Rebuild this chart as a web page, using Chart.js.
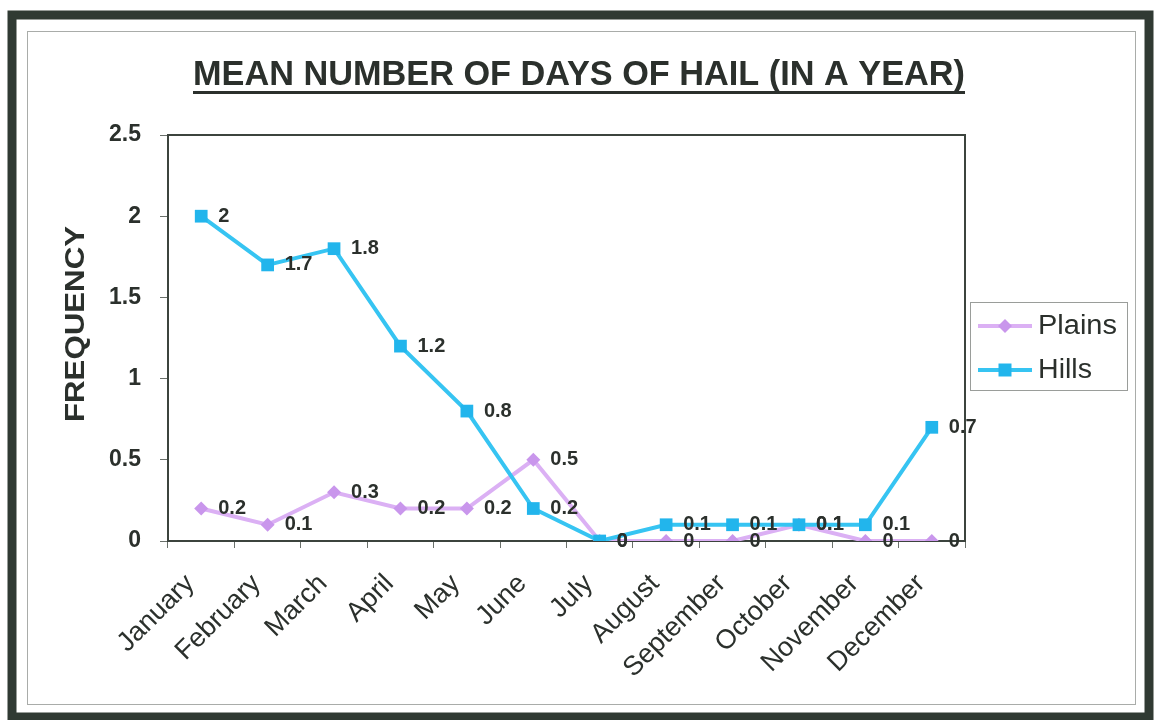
<!DOCTYPE html>
<html>
<head>
<meta charset="utf-8">
<title>Mean number of days of hail</title>
<script src="https://cdn.jsdelivr.net/npm/chart.js@4.4.1/dist/chart.umd.min.js"></script>
<style>
  html, body { margin: 0; padding: 0; background: #ffffff; }
  #wrap { width: 1156px; height: 720px; position: relative; }
</style>
</head>
<body>
<div id="wrap"><canvas id="hail" width="1156" height="720"></canvas></div>
<script>
// Monthly mean number of hail days
const months = ['January', 'February', 'March', 'April', 'May', 'June',
                'July', 'August', 'September', 'October', 'November', 'December'];
const plainsDays = [0.2, 0.1, 0.3, 0.2, 0.2, 0.5, 0, 0, 0, 0.1, 0, 0];
const hillsDays  = [2, 1.7, 1.8, 1.2, 0.8, 0.2, 0, 0.1, 0.1, 0.1, 0.1, 0.7];
const yTickValues = [0, 0.5, 1, 1.5, 2, 2.5];

const chartTitle = 'MEAN NUMBER OF DAYS OF HAIL (IN A YEAR)';
const yAxisTitle = 'FREQUENCY';

const PLAINS_COLOR = '#dbb0f4';
const PLAINS_POINT = '#c996ec';
const HILLS_COLOR = '#36c4f2';
const HILLS_POINT = '#22b5ec';
const TEXT_COLOR = '#2b302c';
const FONT = "'Liberation Sans', Arial, sans-serif";

// Centre a string on (cx, cy), squeezed or stretched to the given width
function drawFitted(ctx, text, cx, cy, width, font) {
  ctx.save();
  ctx.font = font;
  const w = ctx.measureText(text).width;
  ctx.translate(cx, cy);
  ctx.scale(width / w, 1);
  ctx.textAlign = 'center';
  ctx.textBaseline = 'middle';
  ctx.fillText(text, 0, 0);
  ctx.restore();
}

// Same, but anchored at its left edge
function drawFittedLeft(ctx, text, x, y, width, font) {
  ctx.save();
  ctx.font = font;
  const w = ctx.measureText(text).width;
  ctx.translate(x, y);
  ctx.scale(width / w, 1);
  ctx.textAlign = 'left';
  ctx.textBaseline = 'middle';
  ctx.fillText(text, 0, 0);
  ctx.restore();
}

const decorations = {
  id: 'decorations',
  beforeDraw(chart) {
    const ctx = chart.ctx;
    ctx.save();
    ctx.fillStyle = '#ffffff';
    ctx.fillRect(0, 0, chart.width, chart.height);
    // outer frame
    ctx.strokeStyle = '#303a33';
    ctx.lineWidth = 9;
    ctx.strokeRect(12, 15, 1137, 702);
    // inner thin frame
    ctx.strokeStyle = '#a9aca9';
    ctx.lineWidth = 1;
    ctx.strokeRect(27.5, 31.5, 1108, 673);
    ctx.restore();
  },
  beforeDatasetsDraw(chart) {
    const { ctx, chartArea: a } = chart;
    ctx.save();
    ctx.strokeStyle = '#3c443e';
    ctx.lineWidth = 2;
    ctx.strokeRect(a.left, a.top, a.right - a.left, a.bottom - a.top);
    ctx.restore();
  },
  afterDatasetsDraw(chart) {
    // value labels to the right of each point
    const ctx = chart.ctx;
    ctx.save();
    ctx.fillStyle = TEXT_COLOR;
    ctx.font = 'bold 20px ' + FONT;
    ctx.textAlign = 'left';
    ctx.textBaseline = 'middle';
    chart.data.datasets.forEach((ds, i) => {
      const meta = chart.getDatasetMeta(i);
      meta.data.forEach((pt, j) => {
        ctx.fillText(String(ds.data[j]), pt.x + 17, pt.y);
      });
    });
    ctx.restore();
  },
  afterDraw(chart) {
    const ctx = chart.ctx;
    ctx.save();
    ctx.fillStyle = TEXT_COLOR;
    // title with underline
    drawFitted(ctx, chartTitle, 579, 75, 772, 'bold 35px ' + FONT);
    ctx.fillRect(193, 91, 772, 3);
    // y axis title
    ctx.save();
    ctx.translate(76, 324);
    ctx.rotate(-Math.PI / 2);
    drawFitted(ctx, yAxisTitle, 0, 0, 196, 'bold 28px ' + FONT);
    ctx.restore();

    // legend
    ctx.strokeStyle = '#9a9d9a';
    ctx.lineWidth = 1;
    ctx.strokeRect(970.5, 302.5, 157, 88);
    const items = [
      { label: chart.data.datasets[0].label, color: PLAINS_COLOR, point: PLAINS_POINT, style: 'diamond', y: 326, w: 79 },
      { label: chart.data.datasets[1].label, color: HILLS_COLOR, point: HILLS_POINT, style: 'square', y: 370, w: 54 }
    ];
    items.forEach(it => {
      ctx.strokeStyle = it.color;
      ctx.lineWidth = 4;
      ctx.beginPath();
      ctx.moveTo(978, it.y);
      ctx.lineTo(1032, it.y);
      ctx.stroke();
      ctx.fillStyle = it.point;
      ctx.beginPath();
      if (it.style === 'square') {
        ctx.rect(1005 - 6.5, it.y - 6.5, 13, 13);
      } else {
        ctx.moveTo(1005, it.y - 7);
        ctx.lineTo(1012, it.y);
        ctx.lineTo(1005, it.y + 7);
        ctx.lineTo(998, it.y);
        ctx.closePath();
      }
      ctx.fill();
      ctx.fillStyle = TEXT_COLOR;
      drawFittedLeft(ctx, it.label, 1038, it.y + 1, it.w, '27px ' + FONT);
    });
    ctx.restore();
  }
};

new Chart(document.getElementById('hail'), {
  type: 'line',
  data: {
    labels: months,
    datasets: [
      {
        label: 'Plains',
        data: plainsDays,
        borderColor: PLAINS_COLOR,
        backgroundColor: PLAINS_POINT,
        borderWidth: 4,
        pointStyle: 'rectRot',
        pointRadius: 7,
        pointBorderWidth: 0,
        pointBackgroundColor: PLAINS_POINT,
        tension: 0,
        order: 2
      },
      {
        label: 'Hills',
        data: hillsDays,
        borderColor: HILLS_COLOR,
        backgroundColor: HILLS_POINT,
        borderWidth: 4,
        pointStyle: 'rect',
        pointRadius: 9,
        pointBorderWidth: 0,
        pointBackgroundColor: HILLS_POINT,
        tension: 0,
        order: 1
      }
    ]
  },
  options: {
    responsive: false,
    animation: false,
    devicePixelRatio: 1,
    layout: { padding: { left: 0, top: 135, right: 191, bottom: 0 } },
    plugins: {
      legend: { display: false },
      title: { display: false },
      tooltip: { enabled: false }
    },
    scales: {
      x: {
        type: 'category',
        offset: true,
        grid: {
          display: true,
          drawOnChartArea: false,
          drawTicks: true,
          tickLength: 7,
          color: '#6a706b',
          offset: true
        },
        border: { display: true, color: '#3c443e', width: 2 },
        ticks: {
          autoSkip: false,
          minRotation: 45,
          maxRotation: 45,
          padding: 20,
          labelOffset: -11,
          color: TEXT_COLOR,
          font: { family: FONT, size: 27 }
        },
        afterFit(scale) { scale.height = 179; }
      },
      y: {
        min: 0,
        max: 2.5,
        afterBuildTicks(scale) {
          scale.ticks = yTickValues.map(v => ({ value: v }));
        },
        grid: {
          display: true,
          drawOnChartArea: false,
          drawTicks: true,
          tickLength: 8,
          color: '#6a706b'
        },
        border: { display: true, color: '#3c443e', width: 2 },
        ticks: {
          padding: 19,
          color: TEXT_COLOR,
          font: { family: FONT, size: 23, weight: 'bold' },
          callback: v => String(v)
        },
        afterFit(scale) { scale.width = 168; }
      }
    }
  },
  plugins: [decorations]
});
</script>
</body>
</html>
